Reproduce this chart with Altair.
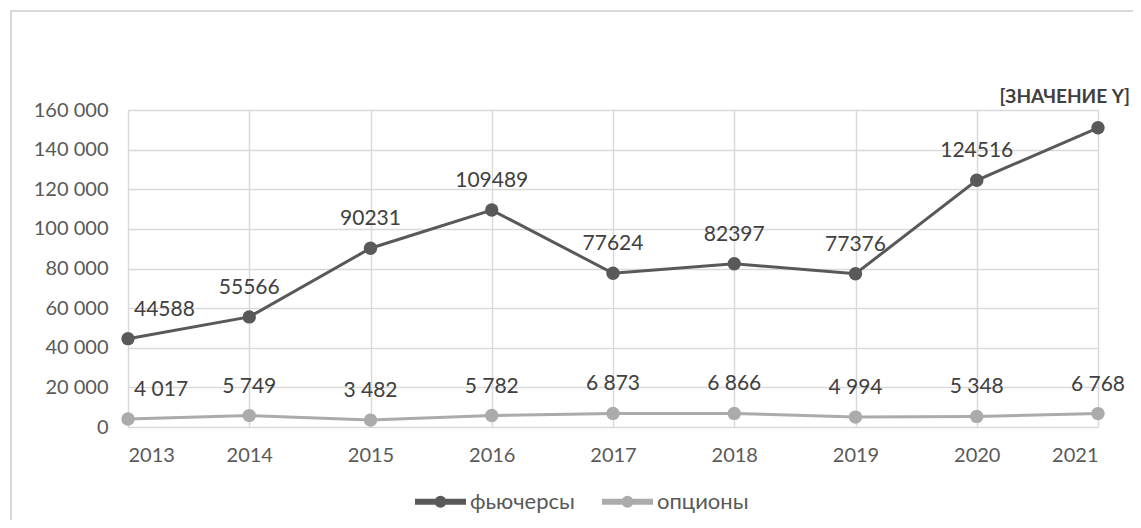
import altair as alt
import pandas as pd

years = [2013, 2014, 2015, 2016, 2017, 2018, 2019, 2020, 2021]
futures = [44588, 55566, 90231, 109489, 77624, 82397, 77376, 124516, 151000]
options = [4017, 5749, 3482, 5782, 6873, 6866, 4994, 5348, 6768]
series_names = ["фьючерсы", "опционы"]
series_colors = ["#595959", "#ababab"]
placeholder = "[ЗНАЧЕНИЕ Y]"
y_ticks = [0, 20000, 40000, 60000, 80000, 100000, 120000, 140000, 160000]

rows = []
for y, f, o in zip(years, futures, options):
    rows.append({"year": y, "series": series_names[0], "value": f})
    rows.append({"year": y, "series": series_names[1], "value": o})
df = pd.DataFrame(rows)

FONT = "Lato"
TXT = "#595959"

x_enc = alt.X("year:Q", scale=alt.Scale(domain=[2013, 2021], nice=False, zero=False),
              axis=alt.Axis(values=years, format="d", title=None, grid=True, domain=False,
                            ticks=False, labelPadding=18, labelFontSize=20, labelColor=TXT,
                            labelFont=FONT, gridColor="#d9d9d9", gridWidth=1.5,
                            labelOverlap=False))
y_enc = alt.Y("value:Q", scale=alt.Scale(domain=[0, 160000], nice=False),
              axis=alt.Axis(values=y_ticks, tickCount=9, title=None, grid=True, domain=False,
                            ticks=False,
                            labelExpr="replace(format(datum.value, ','), ',', ' ')",
                            labelPadding=20, labelFontSize=20, labelColor=TXT, labelFont=FONT,
                            gridColor="#d9d9d9", gridWidth=1.5, labelOverlap=False,
                            labelFlush=False))
color_scale = alt.Scale(domain=series_names, range=series_colors)

legend_path = ("M-1,-0.0625H-0.25V0.0625H-1Z "
               "M0.25,-0.0625H1V0.0625H0.25Z "
               "M0.1875,0A0.1875,0.1875 0 1,1 -0.1875,0A0.1875,0.1875 0 1,1 0.1875,0 "
               "M0.0625,0A0.0625,0.0625 0 1,1 -0.0625,0A0.0625,0.0625 0 1,1 0.0625,0")

base = alt.Chart(df)

lines = base.mark_line(strokeWidth=3).encode(
    x=x_enc, y=y_enc,
    color=alt.Color("series:N", scale=color_scale, sort=series_names,
                    legend=alt.Legend(title=None, orient="none", legendX=287, legendY=366,
                                      direction="horizontal", symbolType=legend_path,
                                      symbolSize=2304, symbolStrokeWidth=3,
                                      labelFontSize=22, labelFont=FONT, labelColor=TXT,
                                      columnPadding=22, labelOffset=4)),
)

points = base.mark_circle(size=180, opacity=1).encode(
    x=x_enc, y=y_enc,
    color=alt.Color("series:N", scale=color_scale, legend=None),
)

labels = base.transform_filter(
    f"!(datum.series == '{series_names[0]}' && datum.year == 2021)"
).transform_calculate(
    label=f"datum.series == '{series_names[0]}' ? format(datum.value, 'd') : "
          "replace(format(datum.value, ','), ',', ' ')"
).mark_text(
    fontSize=21, font=FONT, color="#404040", baseline="middle", dy=-29,
    align=alt.expr("datum.year == 2013 ? 'left' : 'center'"),
    dx=alt.expr("datum.year == 2013 ? 6 : 0"),
).encode(x=x_enc, y=y_enc, text="label:N")

ph = base.transform_filter(
    f"datum.series == '{series_names[0]}' && datum.year == 2021"
).mark_text(
    fontSize=19, font=FONT, fontWeight="bold", color="#404040", baseline="middle",
    dy=-31, align="right", dx=32,
).encode(x=x_enc, y=y_enc, text=alt.value(placeholder))

frame_df = pd.DataFrame({"k": [0]})
frame_left = alt.Chart(frame_df).mark_rule(color="#d9d9d9", strokeWidth=2).encode(
    x=alt.value(-117), y=alt.value(-99), y2=alt.value(430))
frame_top = alt.Chart(frame_df).mark_rule(color="#d9d9d9", strokeWidth=2).encode(
    x=alt.value(-118), x2=alt.value(1020), y=alt.value(-99))

chart = alt.layer(lines, points, labels, ph, frame_left, frame_top).properties(
    width=970, height=317,
    padding={"left": 120, "top": 102, "right": 35, "bottom": 93},
    autosize="none",
    background="white",
).configure_view(stroke=None)

chart.save("out.html", embed_options={"renderer": "svg", "actions": False})
